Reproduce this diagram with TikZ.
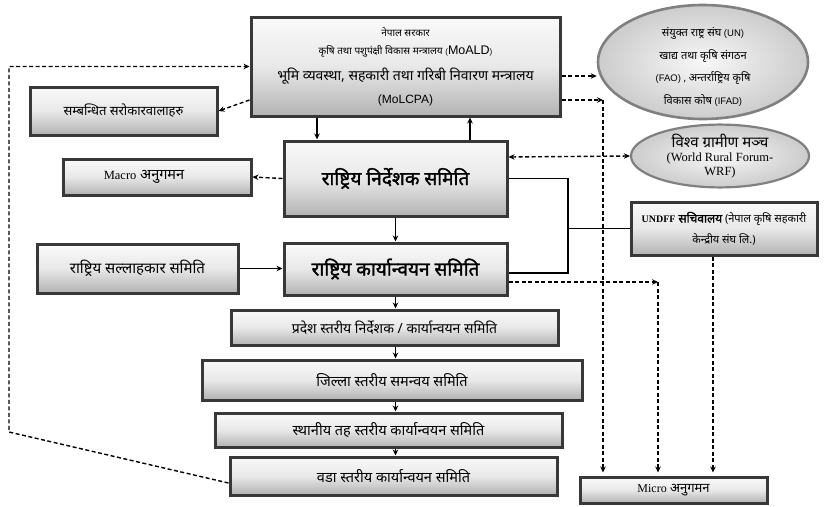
\documentclass[tikz,border=0pt]{standalone}
\usepackage{fontspec}
\setmainfont[Script=Devanagari]{Noto Sans}
\newfontfamily\devb[Script=Devanagari,FakeBold=1.6]{Noto Sans}
\newfontfamily\tms{Liberation Serif}
\newfontfamily\ars{Liberation Sans}
\usetikzlibrary{shapes.geometric,shadows,arrows.meta,calc}
\newcommand\fs[1]{\fontsize{#1}{#1}\selectfont}
\tikzset{
  box/.style={draw=black!78, line width=3pt, top color=black!2, bottom color=black!30, middle color=black!9,
    drop shadow={shadow xshift=1.5pt,shadow yshift=-1.5pt,opacity=.4},
    inner sep=2pt, align=center, font=\fs{10}},
  oval/.style={ellipse, draw=black!50, line width=2.6pt, inner color=black!3, outer color=black!20,
    inner sep=0pt, align=center, font=\fs{10}},
  conn/.style={line width=1.4pt},
  arr/.style={conn, -{Stealth[length=6pt,width=5.5pt]}},
  dsh/.style={line width=1.4pt, dash pattern=on 4pt off 2.5pt},
  darr/.style={dsh, -{Stealth[length=6pt,width=5.5pt]}},
  ddarr/.style={dsh, {Stealth[length=6pt,width=5.5pt]}-{Stealth[length=6pt,width=5.5pt]}},
}
\begin{document}
\begin{tikzpicture}[x=1pt,y=-1pt]
\useasboundingbox (0,0) rectangle (824,506);
\fill[white] (0,0) rectangle (824,506);

% boxes
\node[box, minimum width=309pt, minimum height=99pt] (moald) at (405.5,66.5)
 {{\fs{10}नेपाल सरकार}\\[8pt]
  {\fs{10}कृषि तथा पशुपंक्षी विकास मन्त्रालय {\ars\fs{8}(}{\ars\fs{12.5}MoALD}{\ars\fs{8})}}\\[10pt]
  {\fs{14}भूमि व्यवस्था, सहकारी तथा गरिबी निवारण मन्त्रालय}\\[9pt]
  {\ars\fs{12}(MoLCPA)}};
\node[oval, minimum width=210pt, minimum height=114pt] (un) at (703,62) {};
\node[align=center, inner sep=0pt] (untext) at (703,67)
 {{\fs{11}संयुक्त राष्ट्र संघ} {\ars\fs{9.5}(UN)}\\[9pt]
  {\fs{11}खाद्य तथा कृषि संगठन}\\[9pt]
  {\ars\fs{9.5}(FAO)} , {\fs{11}अन्तर्राष्ट्रिय कृषि}\\[9pt]
  {\fs{11}विकास कोष} {\ars\fs{9.5}(IFAD)}};
\node[box, minimum width=187pt, minimum height=48pt, font=\fs{13}] (sam) at (123.5,111) {सम्बन्धित सरोकारवालाहरु};
\node[box, minimum width=188pt, minimum height=36pt, font=\fs{14.5}] (macro) at (157,177) {{\tms\fs{12.5}Macro} अनुगमन\hspace*{26pt}};
\node[box, minimum width=223pt, minimum height=75pt, font=\devb\fs{19}] (nird) at (395.5,178.5) {राष्ट्रिय निर्देशक समिति};
\node[oval, minimum width=178pt, minimum height=62pt, line width=2.2pt] (wrf) at (720,156)
 {{\fs{15}विश्व ग्रामीण मञ्च}\\[4pt]{\tms\fs{12.5}(World Rural Forum-}\\[2pt]{\tms\fs{12.5}WRF)}};
\node[box, minimum width=186pt, minimum height=53pt, font=\fs{11}] (undff) at (724,228.5)
 {{\tms\bfseries\fs{10}UNDFF} {\devb\fs{12}सचिवालय} (नेपाल कृषि सहकारी\\[7pt]केन्द्रीय संघ लि.)};
\node[box, minimum width=201pt, minimum height=49pt, font=\fs{15}] (salla) at (137.5,268.5) {राष्ट्रिय सल्लाहकार समिति};
\node[box, minimum width=223pt, minimum height=52pt, font=\devb\fs{19}] (karya) at (395.5,269) {राष्ट्रिय कार्यान्वयन समिति};
\node[box, minimum width=327pt, minimum height=35pt, font=\fs{14}] (pradesh) at (394.5,327.5) {प्रदेश स्तरीय निर्देशक / कार्यान्वयन समिति};
\node[box, minimum width=380pt, minimum height=40pt, font=\fs{14.5}] (jilla) at (392,380) {जिल्ला स्तरीय समन्वय समिति};
\node[box, minimum width=347pt, minimum height=34pt, font=\fs{14.5}] (sthan) at (388.5,430) {स्थानीय तह स्तरीय कार्यान्वयन समिति};
\node[box, minimum width=327pt, minimum height=38pt, font=\fs{14.5}] (wada) at (393.5,476) {वडा स्तरीय कार्यान्वयन समिति};
\node[box, minimum width=187pt, minimum height=26pt, font=\fs{13}, inner sep=0pt] (micro) at (673.5,490) {{\tms\fs{12}Micro} अनुगमन};

% coordinates
\coordinate (lb) at (9,432);
\coordinate (lt) at (9,66.5);
\coordinate (jn) at (568,178.5);
\coordinate (c1) at (603,100);
\coordinate (c2) at (658,282);

% solid arrows
\draw[arr] ([xshift=-88.5pt]moald.south) -- ([xshift=-88.5pt]moald.south |- nird.north);
\draw[arr] ([xshift=74.5pt]nird.north) -- ([xshift=74.5pt]nird.north |- moald.south);
\draw[arr] (nird.south) -- (nird.south |- karya.north);
\draw[arr] (salla.east) -- (salla.east -| karya.west);
\draw[arr] (karya.south) -- (karya.south |- pradesh.north);
\draw[arr] (pradesh.south -| karya.south) -- (karya.south |- jilla.north);
\draw[arr] (jilla.south -| karya.south) -- (karya.south |- sthan.north);
\draw[arr] (sthan.south -| karya.south) -- (karya.south |- wada.north);

% solid lines to UNDFF
\draw[conn] (nird.east) -- (jn) |- ([yshift=-4pt]karya.east);
\draw[conn] (undff.west) -- (undff.west -| jn);

% dashed connectors
\draw[darr] ([yshift=-7pt]wada.west) -- (lb) -- (lt) -- (moald.west);
\draw[darr] ([yshift=-33.5pt]moald.west) -- (sam.east);
\draw[darr] (nird.west) -- (macro.east);
\draw[ddarr] ([yshift=21.5pt]nird.east) -- (wrf.west);
\draw[darr] ([yshift=-9.5pt]moald.east) -- ([yshift=-9.5pt]moald.east -| un.west);
\draw[darr] (moald.east |- c1) -- (c1);
\draw[darr, shorten >=3pt] (c1) -- (c1 |- micro.north);
\draw[darr] (karya.east |- c2) -- (c2);
\draw[darr, shorten >=3pt] (c2) -- (c2 |- micro.north);
\draw[darr, shorten >=3pt] ([xshift=-11pt]undff.south) -- ([xshift=-11pt]undff.south |- micro.north);
\end{tikzpicture}
\end{document}
